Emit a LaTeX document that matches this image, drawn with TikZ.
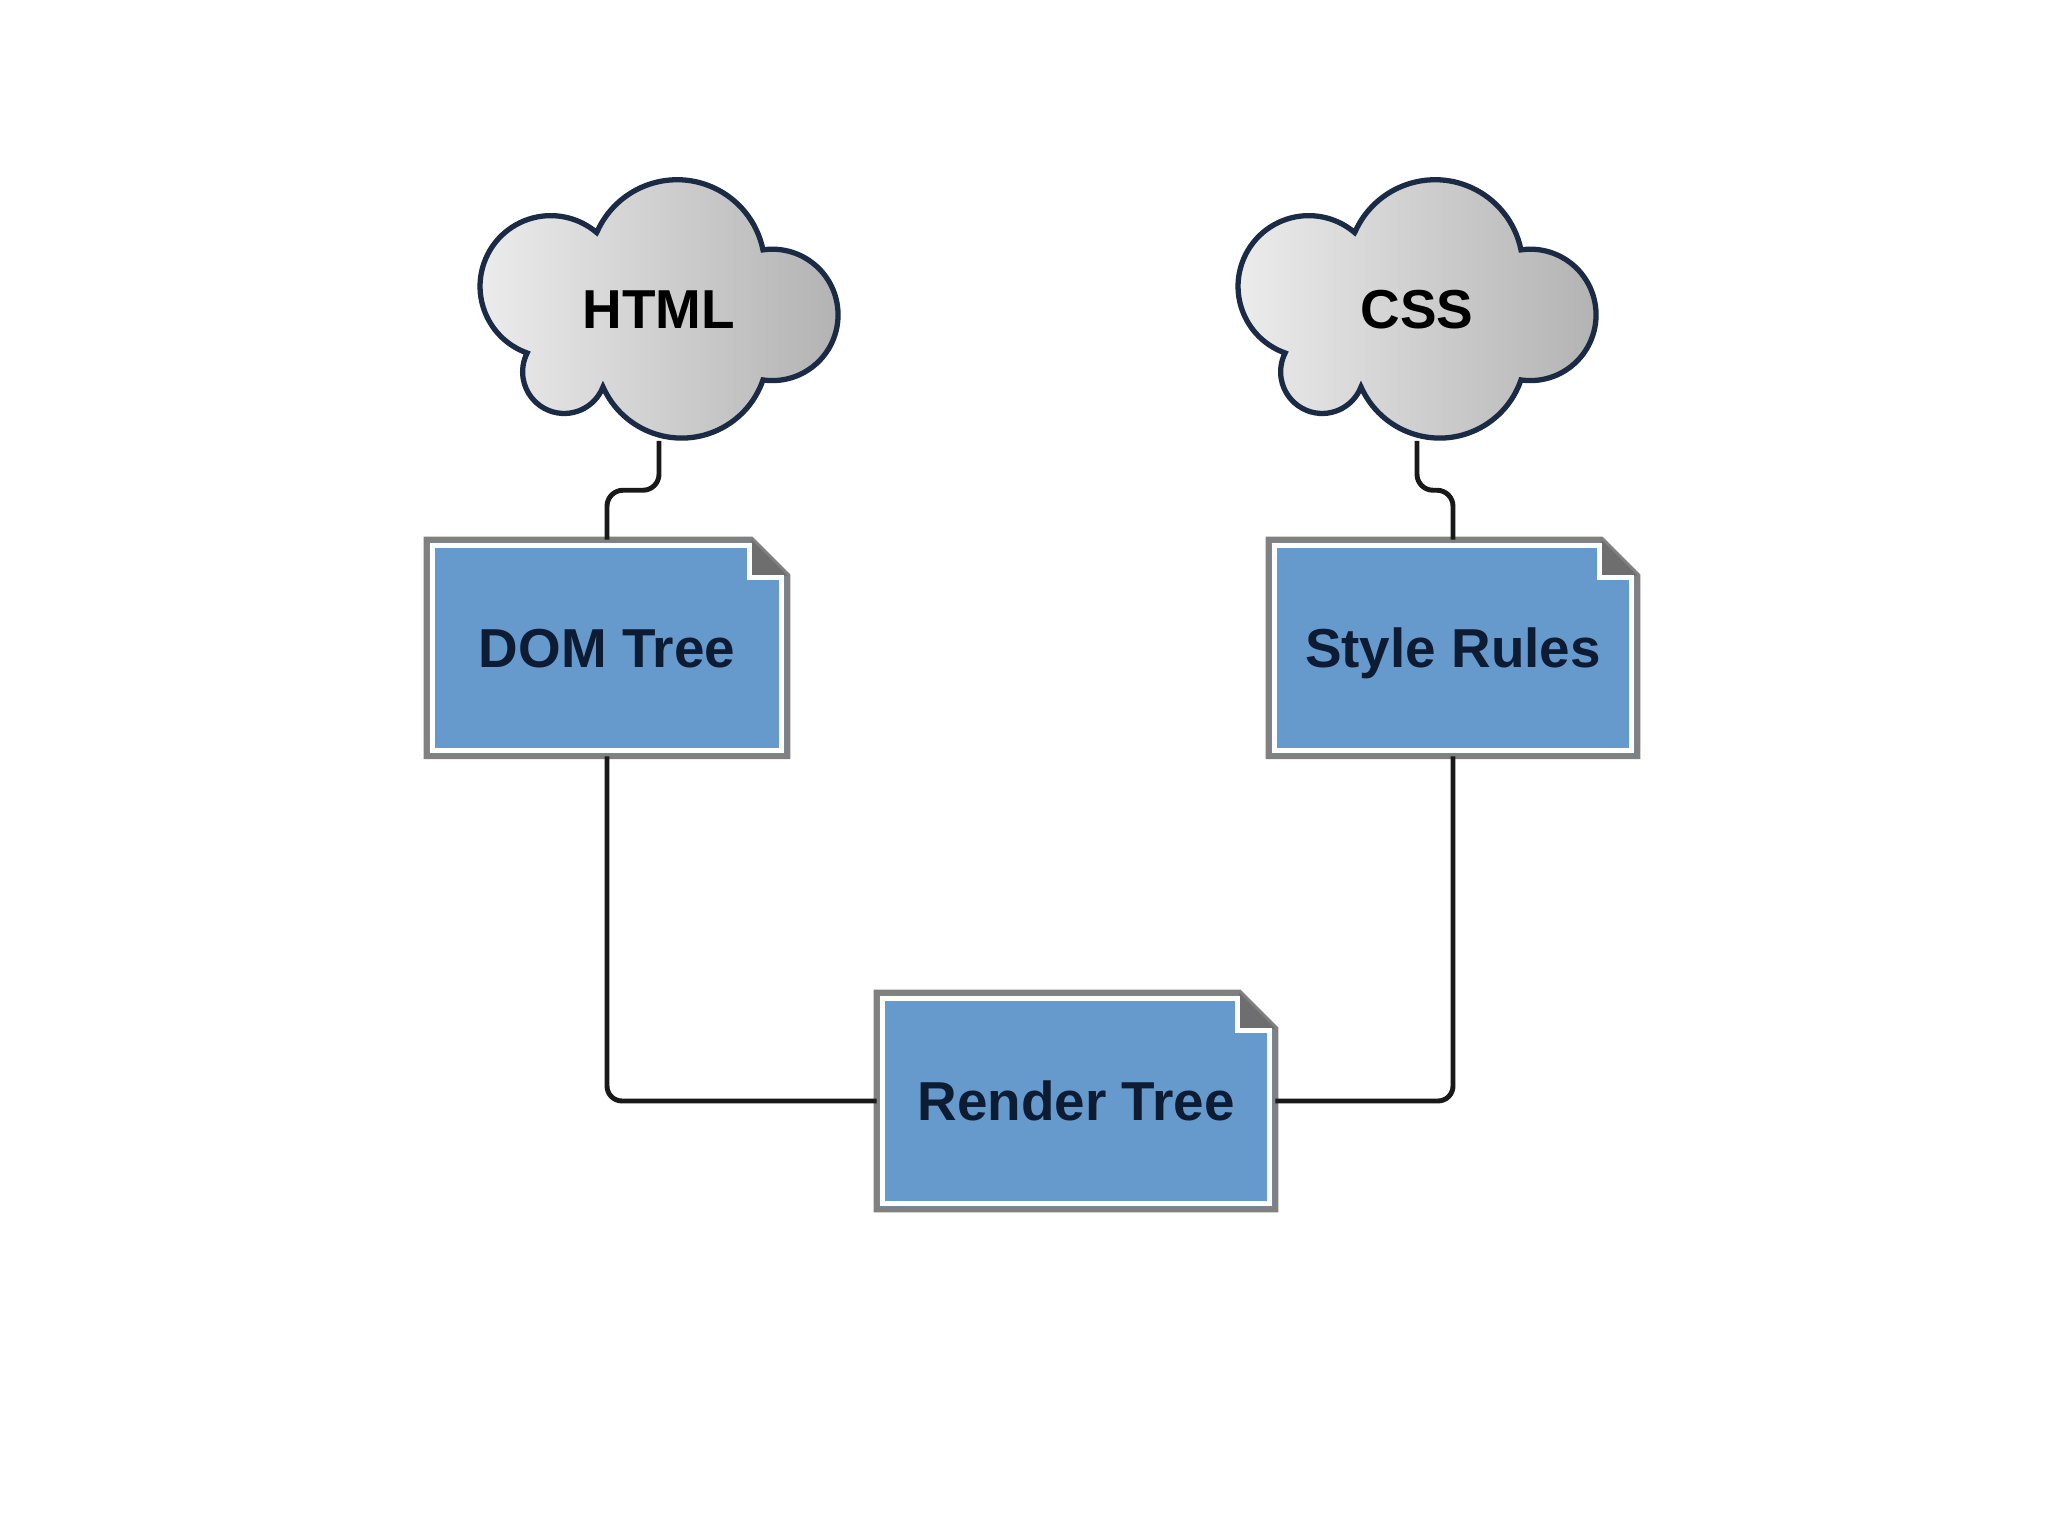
\documentclass[tikz,border=0pt]{standalone}
\usepackage{fontspec}
\setmainfont{Liberation Sans}
\usetikzlibrary{positioning,backgrounds,calc}
\definecolor{rtBlue}{HTML}{6699CC}
\definecolor{rtGrey}{HTML}{808080}
\definecolor{rtFold}{HTML}{6E6E6E}
\definecolor{rtNavy}{HTML}{1B2B45}
\definecolor{rtInk}{HTML}{0D1B33}
\tikzset{
  lbl/.style={font=\fontsize{15.6}{18}\selectfont\bfseries, inner sep=0pt,
              text height=0.39cm, text depth=0pt},
  cloudnode/.style={lbl, text=black, minimum width=3.62cm, minimum height=2.62cm},
  docbox/.style={lbl, text=rtInk, minimum height=2.15cm},
  docedge/.style={fill=rtBlue, draw=rtGrey, line width=1.7pt, line join=miter},
  docfold/.style={fill=rtFold},
  docinner/.style={draw=white, line width=1.3pt},
  cloudedge/.style={draw=rtNavy, line width=1.5pt, left color=white!93!black,
              right color=white!70!black},
  conn/.style={draw=black!90, line width=1.4pt},
}

\begin{document}
\begin{tikzpicture}[x=0.01cm,y=0.01cm]
  \useasboundingbox (0,0) rectangle (2048,1536);
  % sources
  \node[cloudnode] (html) at (659,1227) {HTML};
  \node[cloudnode] (css) at (1417,1227) {CSS};
  % trees
  \node[docbox,minimum width=3.59cm] (dom) at (607,888) {DOM Tree};
  \node[docbox,minimum width=3.67cm] (rules) at (1453,888) {Style Rules};
  \node[docbox,minimum width=3.97cm] (render) at (1076,435) {Render Tree};
  % shapes behind the labels
  \begin{scope}[on background layer]
    \fill[white] (0,0) rectangle (2048,1536);
    \foreach \n in {html,css}{
      \path[cloudedge,shift={(\n.center)}] (-62,77)
        arc[start angle=156.2, end angle=11.5, radius=87.6]
        arc[start angle=98.2, end angle=-98.2, radius=65.7]
        arc[start angle=-18.9, end angle=-156.1, radius=86]
        arc[start angle=-21.2, end angle=-207, radius=41.6]
        arc[start angle=250.5, end angle=49.5, radius=70.7] -- cycle;
    }
    \foreach \n in {dom,rules,render}{
      \path[docedge] (\n.north west) -- ($(\n.north east)+(-36,0)$)
        -- ($(\n.north east)+(0,-36)$) -- (\n.south east) -- (\n.south west) -- cycle;
      \fill[docfold] ($(\n.north east)+(-36,0)$) -- ($(\n.north east)+(-36,-36)$)
        -- ($(\n.north east)+(0,-36)$) -- cycle;
      \draw[docinner] ($(\n.north west)+(6,-6)$) -- ($(\n.north east)+(-38,-6)$)
        -- ($(\n.north east)+(-38,-38)$) -- ($(\n.north east)+(-6,-38)$)
        -- ($(\n.south east)+(-6,6)$) -- ($(\n.south west)+(6,6)$) -- cycle;
    }
  \end{scope}
  % connectors
  \draw[conn,rounded corners=0.16cm] (html.south) -- ($(html.south)!0.5!(html.south |- dom.north)$) -| (dom.north);
  \draw[conn,rounded corners=0.16cm] (css.south) -- ($(css.south)!0.5!(css.south |- rules.north)$) -| (rules.north);
  \draw[conn,rounded corners=0.15cm] (dom.south) |- (render.west);
  \draw[conn,rounded corners=0.15cm] (rules.south) |- (render.east);
\end{tikzpicture}
\end{document}
